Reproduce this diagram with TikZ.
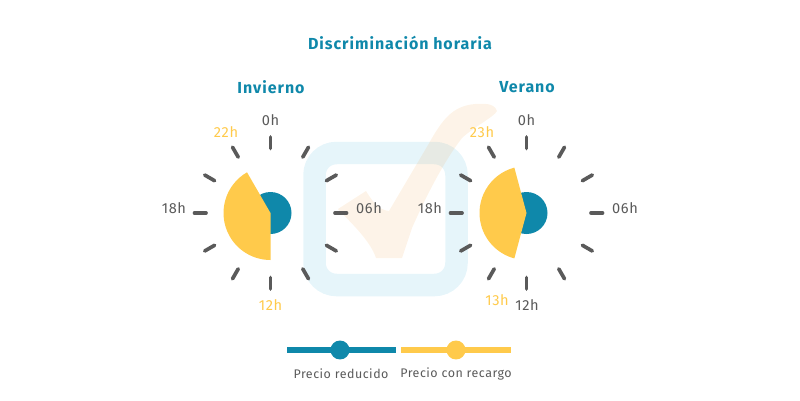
\documentclass[tikz,border=0pt]{standalone}
\usepackage{fontspec}
\setmainfont{Fira Sans}[LetterSpace=4]
\usepackage{xcolor}
\definecolor{tealc}{HTML}{0F88AA}
\definecolor{sunc}{HTML}{FFCA4B}
\definecolor{greyc}{HTML}{5A5A5A}
\definecolor{checkc}{HTML}{F0A040}
\definecolor{boxc}{HTML}{1BA3D6}
\tikzset{
  tickline/.style={greyc,line width=2.1pt,line cap=round},
  hourlabel/.style={text=greyc,font=\fontsize{8.3}{10}\selectfont,inner sep=0pt},
  sunlabel/.style={hourlabel,text=sunc},
  headlabel/.style={text=tealc,font=\fontsize{9.1}{11}\selectfont\bfseries\addfontfeature{LetterSpace=6},inner sep=0pt},
  leglabel/.style={text=greyc,font=\fontsize{7.1}{9}\selectfont,inner sep=0pt},
  legdot/.style={circle,fill=#1,minimum size=10.8pt,inner sep=0pt},
  legline/.style={line width=2.9pt}
}
\begin{document}
\begin{tikzpicture}[x=0.02cm,y=0.02cm]
\useasboundingbox (0,0) rectangle (800,400);
% watermark behind the clocks
\draw[boxc,opacity=0.11,line width=12.8pt,rounded corners=12.5pt] (314.5,115) rectangle (456.5,247);
\fill[checkc,opacity=0.12] (338,191) -- (366,209) .. controls (375,194) and (381,190) .. (389,189)
  -- (428,255) .. controls (442,280) and (452,294) .. (475,296) .. controls (482,296) and (494,298) .. (497,289)
  .. controls (494,283) and (475,274) .. (462,262) .. controls (445,240) and (428,208) .. (412,172)
  -- (402,142) -- (376,142) .. controls (370,160) and (350,178) .. cycle;
% ticks
\foreach \cx in {270.5,526.5}
  \foreach \a in {0,30,...,330}
    \draw[tickline] (\cx,187) ++(\a:64.5) -- ++(\a:11.5);
% clocks
\fill[tealc] (270.5,187) circle (21);
\fill[sunc] (270.5,187) -- ++(120:47) arc[start angle=120,end angle=270,radius=47] -- cycle;
\fill[tealc] (526.5,187) circle (21);
\fill[sunc] (526.5,187) -- ++(105:47) arc[start angle=105,end angle=255,radius=47] -- cycle;
% titles
\node[headlabel] (title) at (400,357) {Discriminación horaria};
\node[headlabel] (invierno) at (271,313) {Invierno};
\node[headlabel] (verano) at (527,313) {Verano};
% hours
\node[hourlabel] (wzero) at (270.5,280) {0h};
\node[sunlabel] (wlate) at (226,268) {22h};
\node[hourlabel] (weve) at (174,192) {18h};
\node[hourlabel] (wsix) at (369,192) {06h};
\node[sunlabel] (wnoon) at (270.5,95) {12h};
\node[hourlabel] (szero) at (526.5,280) {0h};
\node[sunlabel] (slate) at (482,268) {23h};
\node[hourlabel] (seve) at (430,192) {18h};
\node[hourlabel] (ssix) at (625,192) {06h};
\node[hourlabel] (snoon) at (527,95) {12h};
\node[sunlabel] (sone) at (497,100) {13h};
% legend
\coordinate (redl) at (287,50);
\coordinate (redr) at (396,50);
\coordinate (surl) at (401,50);
\coordinate (surr) at (511,50);
\draw[legline,tealc] (redl) -- (redr);
\draw[legline,sunc] (surl) -- (surr);
\node[legdot=tealc] (reddot) at (340,50) {};
\node[legdot=sunc] (surdot) at (456,50) {};
\node[leglabel] (redtext) at (341,26) {Precio reducido};
\node[leglabel] (surtext) at (456,26) {Precio con recargo};
\end{tikzpicture}
\end{document}
